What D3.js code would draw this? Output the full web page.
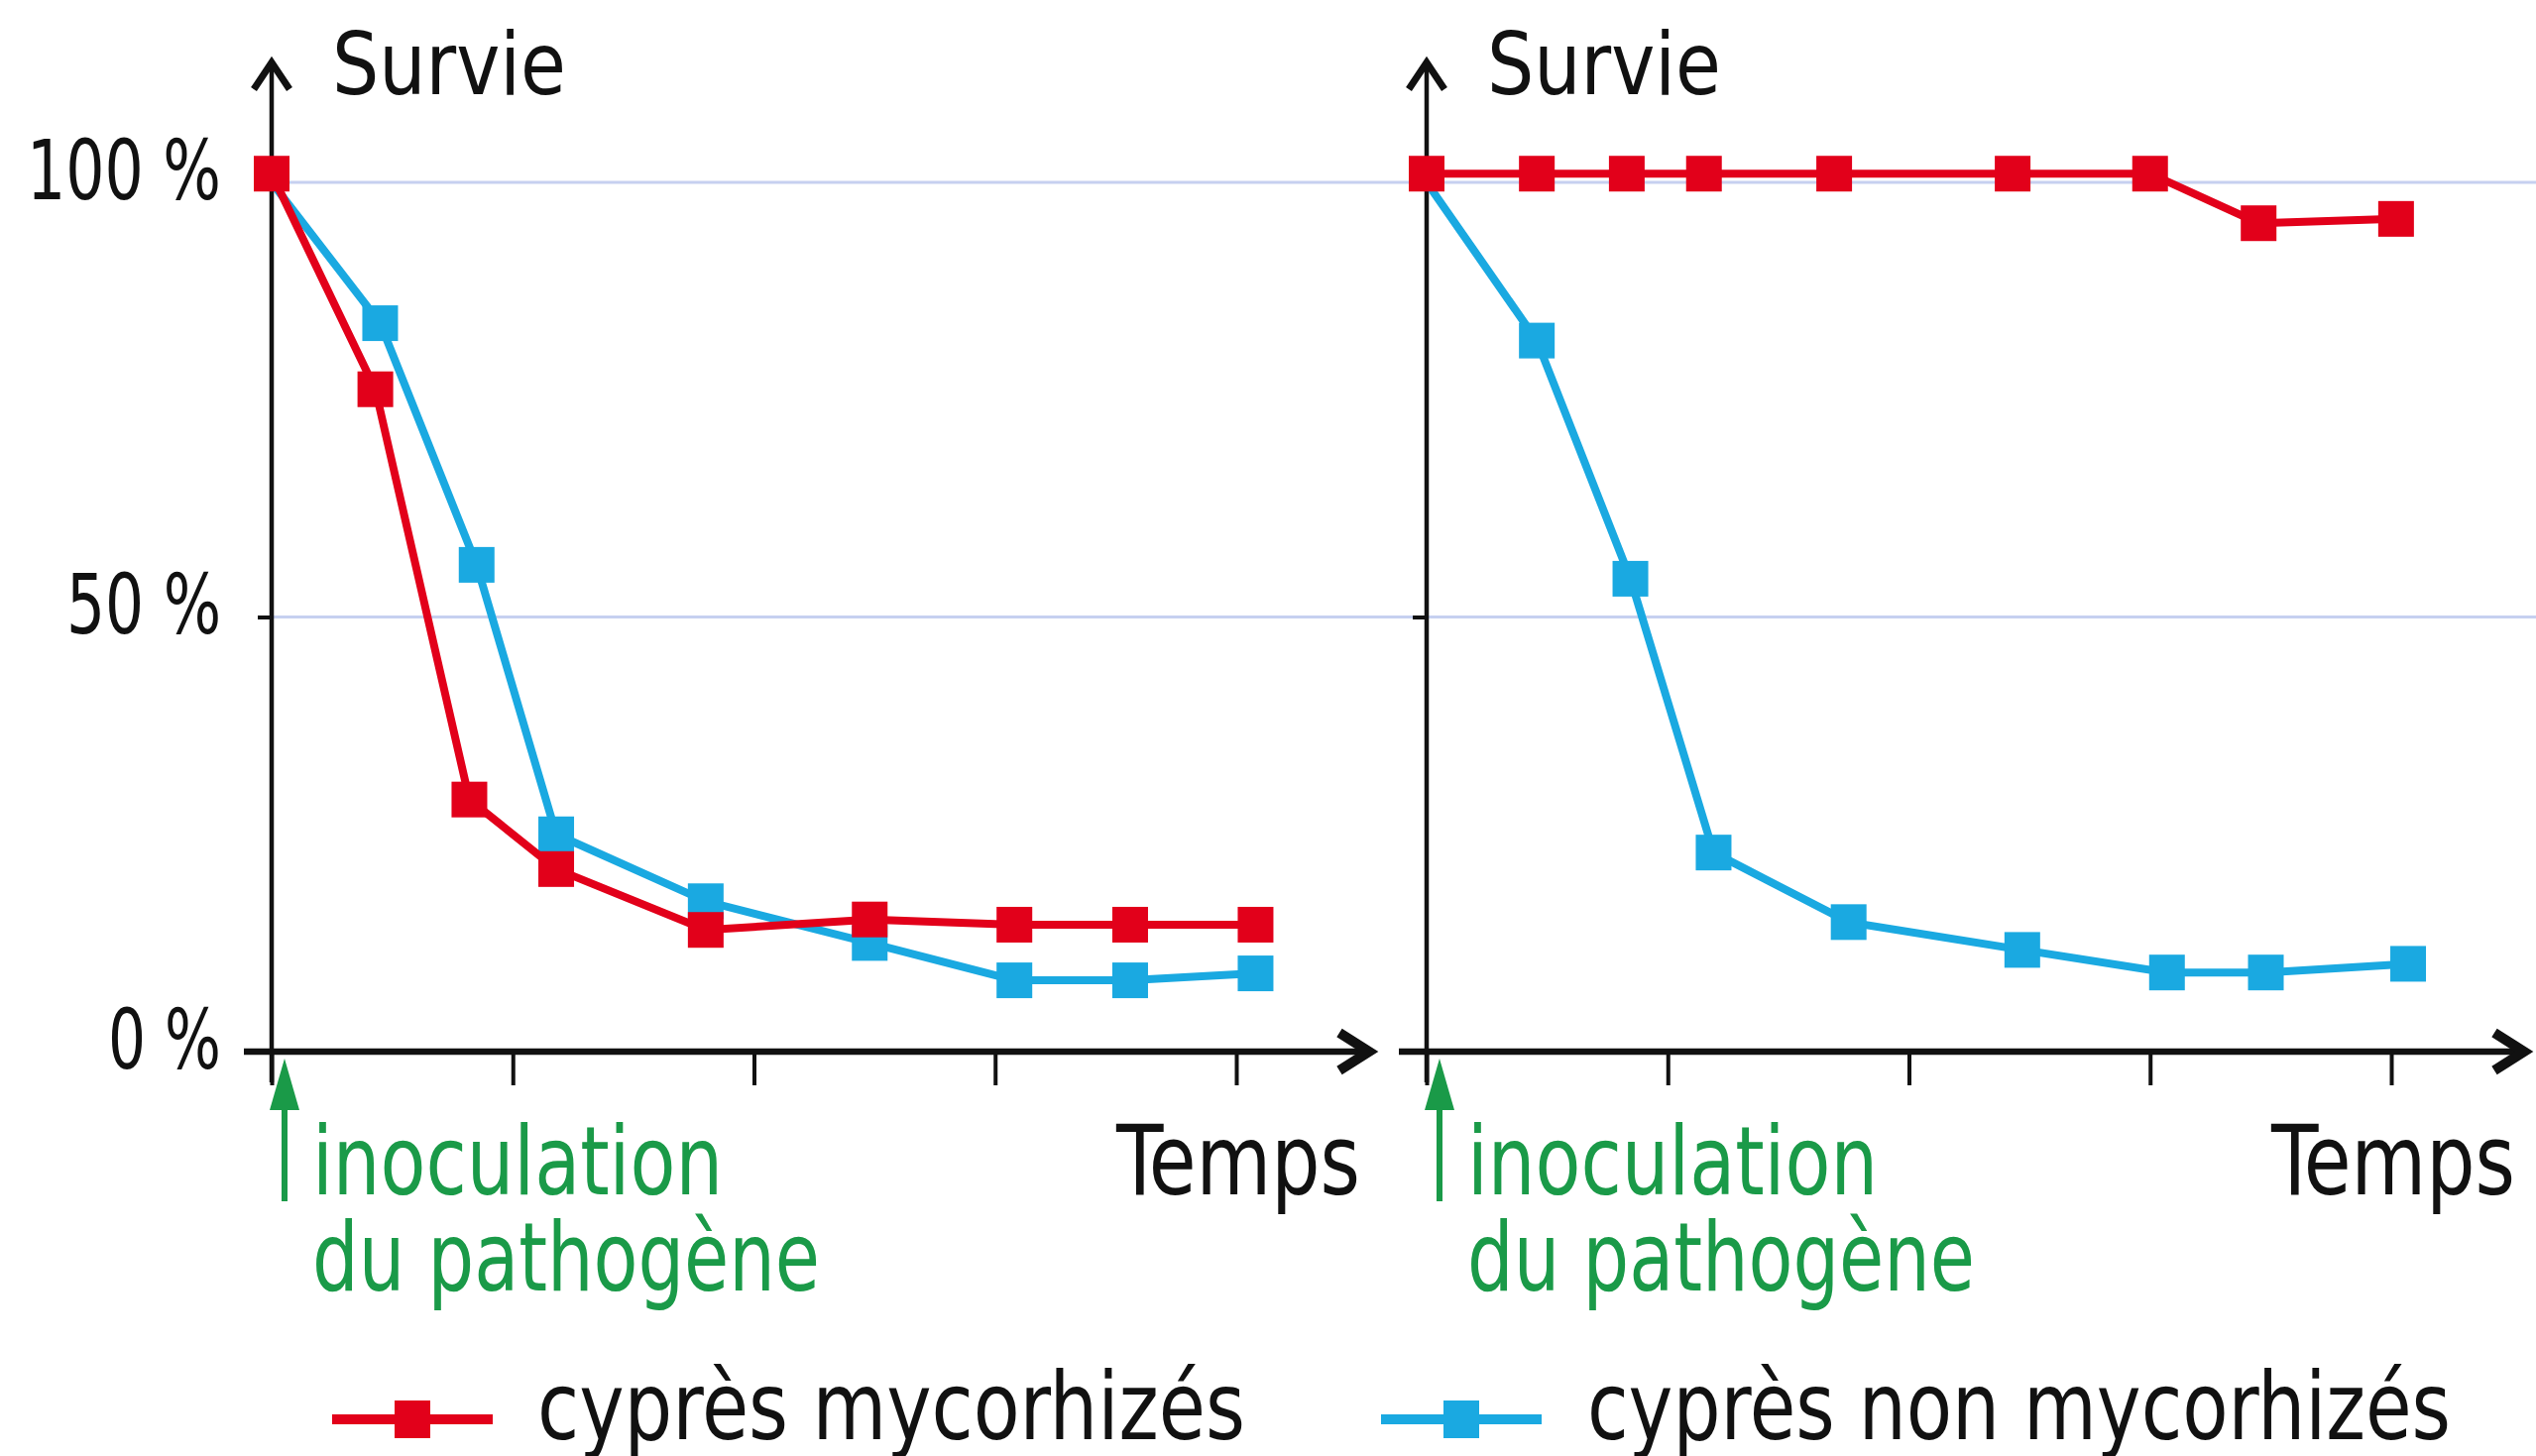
<!DOCTYPE html>
<html>
<head>
<meta charset="utf-8">
<script src="https://cdn.jsdelivr.net/npm/d3@7"></script>
<style>
  body { margin: 0; background: #fff; }
  text { font-family: "Liberation Sans Narrow", "DejaVu Sans Condensed", Roboto, sans-serif; }
</style>
</head>
<body>
<script>
// values: time in tick units, survival in %
var leftRedT = [0, 0.43, 0.82, 1.18, 1.80, 2.48, 3.08, 3.56, 4.08]
var leftRedV = [101, 76.2, 29.0, 21.0, 14.0, 15.2, 14.6, 14.6, 14.6]
var leftBlueT = [0, 0.45, 0.85, 1.18, 1.80, 2.48, 3.08, 3.56, 4.08]
var leftBlueV = [100, 83.8, 56.0, 25.0, 17.3, 12.5, 8.2, 8.2, 9.0]

var rightRedT = [0, 0.457, 0.83, 1.15, 1.69, 2.43, 3.0, 3.45, 4.02]
var rightRedV = [101, 101, 101, 101, 101, 101, 101, 95.3, 95.8]
var rightBlueT = [0, 0.457, 0.845, 1.19, 1.75, 2.47, 3.07, 3.48, 4.07]
var rightBlueV = [100, 81.8, 54.4, 22.9, 14.9, 11.7, 9.1, 9.1, 10.1]

var yTicks = [0, 50, 100]
var yTickLabels = ["0 %", "50 %", "100 %"]
var xTicks = [0, 1, 2, 3, 4]
var gridValues = [50, 100]

var seriesNames = ["cyprès mycorhizés", "cyprès non mycorhizés"]
var red = "#e2001a", blue = "#1aa9e1", green = "#1a9a48"

function pts(t, v) { return t.map(function(d, i) { return {t: d, v: v[i]} }) }

var svg = d3.select("body").append("svg").attr("width", 2558).attr("height", 1469)

var y = d3.scaleLinear().domain([0, 100]).range([1061, 184])

// light blue gridlines across both panels
svg.selectAll(".grid").data(gridValues).enter().append("line")
  .attr("x1", 274).attr("x2", 2558)
  .attr("y1", function(d) { return y(d) }).attr("y2", function(d) { return y(d) })
  .attr("stroke", "#c6d0f0").attr("stroke-width", 3)

var panels = [
  {x0: 274, labels: true, red: pts(leftRedT, leftRedV), blue: pts(leftBlueT, leftBlueV)},
  {x0: 1439, labels: false, red: pts(rightRedT, rightRedV), blue: pts(rightBlueT, rightBlueV)}
]

panels.forEach(function(p) {
  var x = d3.scaleLinear().domain([0, 4]).range([p.x0, p.x0 + 973])
  var g = svg.append("g")

  // x ticks
  var xa = g.append("g").attr("transform", "translate(0," + y(0) + ")")
    .call(d3.axisBottom(x).tickValues(xTicks).tickSize(34).tickFormat(""))
  xa.select(".domain").remove()
  xa.selectAll(".tick line").attr("stroke", "#111").attr("stroke-width", 4)

  // y ticks
  var ya = g.append("g").attr("transform", "translate(" + p.x0 + ",0)")
    .call(d3.axisLeft(y).tickValues(yTicks).tickSize(14)
      .tickFormat(function(d, i) { return p.labels ? yTickLabels[i] : "" }))
  ya.select(".domain").remove()
  ya.selectAll(".tick line").attr("stroke", "#111").attr("stroke-width", 4)
  ya.selectAll(".tick text")
    .attr("x", -51).attr("dy", null).attr("y", 16)
    .attr("font-size", 84).attr("fill", "#111")
    .attr("textLength", function(d) { return d == 100 ? 196 : d == 50 ? 156 : 114 })
    .attr("lengthAdjust", "spacingAndGlyphs")

  // y axis line + arrow
  g.append("line").attr("x1", p.x0).attr("x2", p.x0).attr("y1", y(0) + 31).attr("y2", 62)
    .attr("stroke", "#111").attr("stroke-width", 4.5)
  g.append("path").attr("d", "M" + (p.x0 - 18) + ",90 L" + p.x0 + ",63 L" + (p.x0 + 18) + ",90")
    .attr("fill", "none").attr("stroke", "#111").attr("stroke-width", 7)

  // x axis line + arrow
  var xEnd = x(4) + 134
  g.append("line").attr("x1", p.x0 - 28).attr("x2", xEnd - 6).attr("y1", y(0)).attr("y2", y(0))
    .attr("stroke", "#111").attr("stroke-width", 6.5)
  g.append("path").attr("d", "M" + (xEnd - 30) + "," + (y(0) - 19) + " L" + xEnd + "," + y(0) + " L" + (xEnd - 30) + "," + (y(0) + 19))
    .attr("fill", "none").attr("stroke", "#111").attr("stroke-width", 10)

  // axis titles
  g.append("text").attr("x", p.x0 + 61).attr("y", 95).attr("font-size", 88).attr("fill", "#111")
    .attr("textLength", 236).attr("lengthAdjust", "spacingAndGlyphs").text("Survie")
  g.append("text").attr("x", x(4) - 121).attr("y", 1205).attr("font-size", 98).attr("fill", "#111")
    .attr("textLength", 246).attr("lengthAdjust", "spacingAndGlyphs").text("Temps")

  // inoculation arrow
  var ax = p.x0 + 13
  g.append("line").attr("x1", ax).attr("x2", ax).attr("y1", 1212).attr("y2", 1115)
    .attr("stroke", green).attr("stroke-width", 6)
  g.append("path").attr("d", "M" + ax + ",1068 L" + (ax + 15) + ",1120 L" + (ax - 15) + ",1120 Z")
    .attr("fill", green)
  g.append("text").attr("x", p.x0 + 41).attr("y", 1205).attr("font-size", 96).attr("fill", green)
    .attr("textLength", 414).attr("lengthAdjust", "spacingAndGlyphs").text("inoculation")
  g.append("text").attr("x", p.x0 + 41).attr("y", 1302).attr("font-size", 96).attr("fill", green)
    .attr("textLength", 512).attr("lengthAdjust", "spacingAndGlyphs").text("du pathogène")

  var line = d3.line().x(function(d) { return x(d.t) }).y(function(d) { return y(d.v) })

  // blue under red
  g.append("path").attr("d", line(p.blue)).attr("fill", "none").attr("stroke", blue).attr("stroke-width", 8)
  g.selectAll(".mb").data(p.blue.slice(1)).enter().append("rect")
    .attr("x", function(d) { return x(d.t) - 18 }).attr("y", function(d) { return y(d.v) - 18 })
    .attr("width", 36).attr("height", 36).attr("fill", blue)
  g.append("path").attr("d", line(p.red)).attr("fill", "none").attr("stroke", red).attr("stroke-width", 8)
  g.selectAll(".mr").data(p.red).enter().append("rect")
    .attr("x", function(d) { return x(d.t) - 18 }).attr("y", function(d) { return y(d.v) - 18 })
    .attr("width", 36).attr("height", 36).attr("fill", red)
})

// legend
var legend = [
  {name: seriesNames[0], color: red, x1: 335, x2: 497, tx: 542, tl: 714},
  {name: seriesNames[1], color: blue, x1: 1393, x2: 1555, tx: 1601, tl: 871}
]
legend.forEach(function(l) {
  var cx = (l.x1 + l.x2) / 2
  svg.append("line").attr("x1", l.x1).attr("x2", l.x2).attr("y1", 1432).attr("y2", 1432)
    .attr("stroke", l.color).attr("stroke-width", 10)
  svg.append("rect").attr("x", cx - 18).attr("y", 1413).attr("width", 36).attr("height", 38).attr("fill", l.color)
  svg.append("text").attr("x", l.tx).attr("y", 1452).attr("font-size", 94).attr("fill", "#111")
    .attr("textLength", l.tl).attr("lengthAdjust", "spacingAndGlyphs").text(l.name)
})
</script>
</body>
</html>
